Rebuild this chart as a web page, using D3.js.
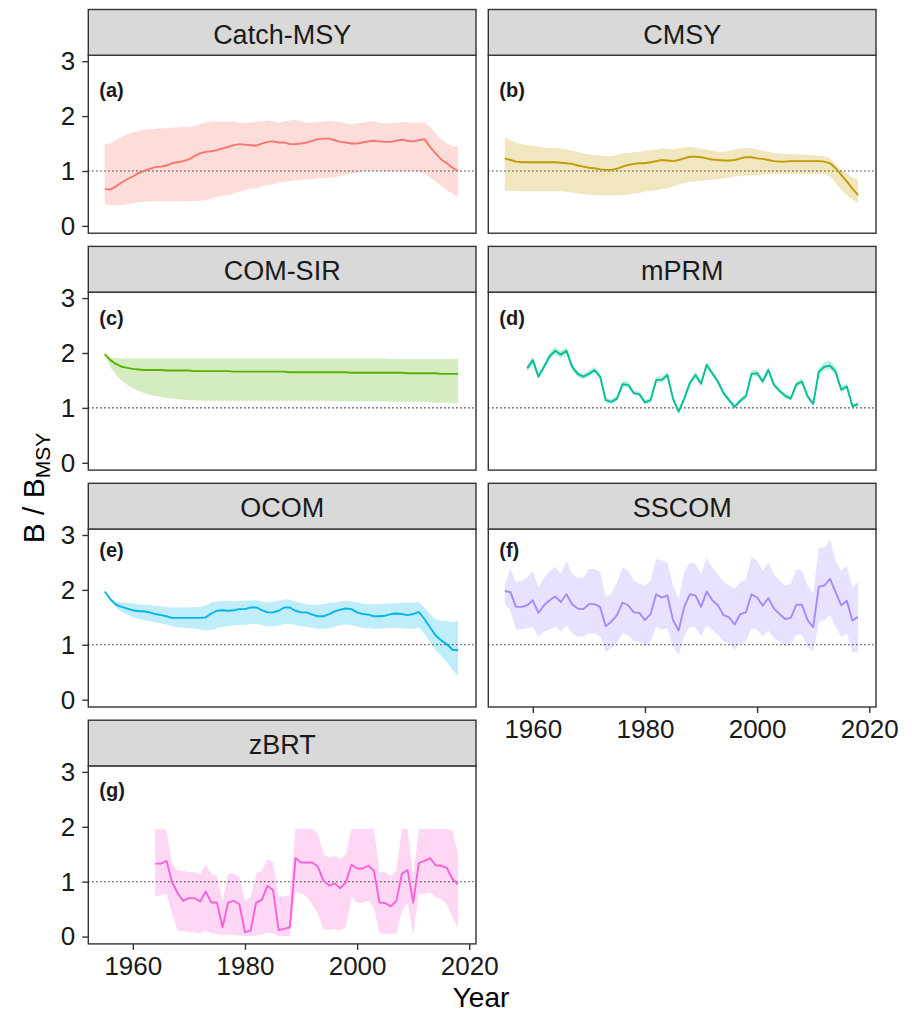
<!DOCTYPE html>
<html>
<head>
<meta charset="utf-8">
<script src="https://cdn.jsdelivr.net/npm/d3@7"></script>
<style>
  body { margin: 0; background: #fff; }
  text { font-family: "Liberation Sans", Arial, sans-serif; }
</style>
</head>
<body>
<svg id="chart" width="912" height="1013"></svg>
<script>
// facets, in the order they are drawn
const models = ['Catch-MSY', 'CMSY', 'COM-SIR', 'mPRM', 'OCOM', 'SSCOM', 'zBRT']
const tags = ['(a)', '(b)', '(c)', '(d)', '(e)', '(f)', '(g)']
const colors = ['#F8766D', '#C49A00', '#53B400', '#00C094', '#00B6EB', '#A58AFF', '#FB61D7']
const firstYears = [1955, 1955, 1955, 1959, 1955, 1955, 1964]
const tagY = [2.47, 2.47, 2.63, 2.63, 2.72, 2.72, 2.67]

const yTicks = [0, 1, 2, 3]
const xTicks = [1960, 1980, 2000, 2020]

// B/Bmsy estimates: median (mid) with lower/upper bounds, one value per year
const catchMsyMid = [0.67, 0.66, 0.72, 0.79, 0.85, 0.90, 0.96, 1.00, 1.04, 1.07,
  1.08, 1.10, 1.14, 1.16, 1.18, 1.21, 1.27, 1.32, 1.35, 1.36,
  1.38, 1.41, 1.44, 1.47, 1.49, 1.48, 1.47, 1.46, 1.50, 1.53,
  1.54, 1.52, 1.52, 1.49, 1.49, 1.50, 1.52, 1.55, 1.58, 1.59,
  1.59, 1.56, 1.53, 1.52, 1.50, 1.50, 1.52, 1.54, 1.55, 1.54,
  1.53, 1.53, 1.55, 1.57, 1.55, 1.54, 1.56, 1.58, 1.44, 1.32,
  1.21, 1.14, 1.06, 1.00]
const catchMsyHi = [1.49, 1.50, 1.56, 1.62, 1.67, 1.70, 1.73, 1.75, 1.76, 1.77,
  1.78, 1.78, 1.79, 1.79, 1.80, 1.80, 1.82, 1.85, 1.88, 1.90,
  1.90, 1.90, 1.90, 1.90, 1.88, 1.88, 1.88, 1.90, 1.90, 1.92,
  1.90, 1.88, 1.90, 1.92, 1.93, 1.91, 1.88, 1.88, 1.89, 1.90,
  1.91, 1.90, 1.89, 1.87, 1.85, 1.87, 1.88, 1.90, 1.90, 1.88,
  1.87, 1.87, 1.88, 1.89, 1.89, 1.88, 1.88, 1.89, 1.80, 1.68,
  1.58, 1.50, 1.45, 1.44]
const catchMsyLo = [0.40, 0.38, 0.37, 0.38, 0.40, 0.41, 0.43, 0.44, 0.45, 0.45,
  0.45, 0.45, 0.45, 0.45, 0.45, 0.45, 0.46, 0.45, 0.47, 0.50,
  0.53, 0.55, 0.56, 0.59, 0.62, 0.65, 0.68, 0.68, 0.72, 0.74,
  0.76, 0.79, 0.81, 0.82, 0.83, 0.84, 0.85, 0.85, 0.87, 0.87,
  0.88, 0.88, 0.91, 0.93, 0.95, 0.97, 0.99, 1.00, 1.00, 1.00,
  0.99, 1.00, 1.00, 0.99, 1.00, 1.00, 0.99, 0.96, 0.88, 0.81,
  0.73, 0.65, 0.59, 0.53]

const cmsyMid = [1.23, 1.20, 1.17, 1.16, 1.16, 1.16, 1.16, 1.16, 1.16, 1.16,
  1.15, 1.14, 1.13, 1.10, 1.08, 1.06, 1.05, 1.03, 1.02, 1.02,
  1.04, 1.08, 1.11, 1.13, 1.14, 1.14, 1.16, 1.18, 1.20, 1.19,
  1.18, 1.20, 1.23, 1.26, 1.26, 1.25, 1.23, 1.21, 1.20, 1.19,
  1.19, 1.20, 1.23, 1.25, 1.25, 1.23, 1.22, 1.20, 1.18, 1.17,
  1.17, 1.18, 1.18, 1.18, 1.18, 1.18, 1.18, 1.17, 1.14, 1.05,
  0.93, 0.81, 0.68, 0.56]
const cmsyHi = [1.61, 1.56, 1.52, 1.49, 1.47, 1.46, 1.44, 1.43, 1.42, 1.42,
  1.41, 1.39, 1.37, 1.35, 1.32, 1.30, 1.29, 1.28, 1.27, 1.27,
  1.29, 1.32, 1.33, 1.34, 1.35, 1.37, 1.38, 1.39, 1.41, 1.40,
  1.39, 1.41, 1.43, 1.44, 1.43, 1.41, 1.39, 1.37, 1.35, 1.35,
  1.37, 1.39, 1.41, 1.42, 1.41, 1.39, 1.37, 1.35, 1.33, 1.32,
  1.31, 1.31, 1.30, 1.30, 1.29, 1.29, 1.28, 1.27, 1.23, 1.11,
  1.02, 0.96, 0.88, 0.84]
const cmsyLo = [0.64, 0.64, 0.63, 0.63, 0.63, 0.63, 0.63, 0.63, 0.63, 0.63,
  0.63, 0.62, 0.61, 0.59, 0.58, 0.57, 0.56, 0.56, 0.56, 0.56,
  0.56, 0.56, 0.57, 0.59, 0.60, 0.62, 0.64, 0.65, 0.67, 0.68,
  0.72, 0.75, 0.78, 0.80, 0.81, 0.82, 0.83, 0.84, 0.85, 0.87,
  0.88, 0.90, 0.91, 0.92, 0.92, 0.92, 0.93, 0.94, 0.94, 0.94,
  0.94, 0.94, 0.94, 0.94, 0.94, 0.94, 0.94, 0.94, 0.90, 0.78,
  0.65, 0.56, 0.48, 0.42]

const comSirMid = [1.98, 1.87, 1.80, 1.75, 1.73, 1.71, 1.70, 1.69, 1.69, 1.69,
  1.69, 1.68, 1.68, 1.68, 1.68, 1.68, 1.67, 1.67, 1.67, 1.67,
  1.67, 1.67, 1.67, 1.66, 1.66, 1.66, 1.66, 1.66, 1.66, 1.66,
  1.66, 1.66, 1.66, 1.65, 1.65, 1.65, 1.65, 1.65, 1.65, 1.65,
  1.65, 1.65, 1.65, 1.65, 1.64, 1.64, 1.64, 1.64, 1.64, 1.64,
  1.64, 1.64, 1.64, 1.64, 1.63, 1.63, 1.63, 1.63, 1.63, 1.63,
  1.62, 1.62, 1.62, 1.62]
const comSirHi = [1.95, 1.92, 1.91, 1.90, 1.90, 1.90, 1.90, 1.90, 1.90, 1.90,
  1.90, 1.90, 1.90, 1.90, 1.90, 1.90, 1.90, 1.90, 1.90, 1.90,
  1.90, 1.90, 1.90, 1.90, 1.90, 1.90, 1.90, 1.90, 1.90, 1.90,
  1.90, 1.90, 1.90, 1.90, 1.90, 1.90, 1.90, 1.90, 1.90, 1.90,
  1.90, 1.90, 1.90, 1.90, 1.90, 1.90, 1.90, 1.90, 1.90, 1.90,
  1.90, 1.89, 1.89, 1.89, 1.89, 1.89, 1.89, 1.89, 1.89, 1.89,
  1.89, 1.89, 1.89, 1.89]
const comSirLo = [1.96, 1.74, 1.60, 1.50, 1.42, 1.36, 1.31, 1.27, 1.24, 1.22,
  1.20, 1.18, 1.17, 1.16, 1.15, 1.14, 1.14, 1.13, 1.13, 1.13,
  1.13, 1.13, 1.13, 1.13, 1.13, 1.13, 1.13, 1.13, 1.13, 1.13,
  1.13, 1.13, 1.13, 1.13, 1.13, 1.13, 1.13, 1.13, 1.13, 1.13,
  1.13, 1.12, 1.12, 1.12, 1.12, 1.12, 1.12, 1.12, 1.12, 1.12,
  1.12, 1.11, 1.11, 1.11, 1.11, 1.11, 1.11, 1.11, 1.10, 1.10,
  1.10, 1.10, 1.09, 1.09]

const mprmMid = [1.72, 1.87, 1.57, 1.75, 1.94, 2.04, 1.97, 2.04, 1.75, 1.62,
  1.57, 1.62, 1.69, 1.57, 1.14, 1.11, 1.17, 1.43, 1.42, 1.27,
  1.25, 1.10, 1.14, 1.51, 1.51, 1.60, 1.17, 0.93, 1.17, 1.45,
  1.60, 1.44, 1.78, 1.63, 1.48, 1.27, 1.14, 1.02, 1.13, 1.21,
  1.62, 1.63, 1.48, 1.69, 1.42, 1.31, 1.22, 1.17, 1.43, 1.48,
  1.21, 1.07, 1.66, 1.75, 1.77, 1.66, 1.33, 1.39, 1.03, 1.07]
const mprmHi = [1.79, 1.93, 1.63, 1.81, 2.01, 2.12, 2.04, 2.11, 1.81, 1.68,
  1.62, 1.68, 1.75, 1.63, 1.19, 1.16, 1.22, 1.49, 1.48, 1.32,
  1.30, 1.15, 1.19, 1.57, 1.57, 1.66, 1.22, 0.98, 1.22, 1.51,
  1.66, 1.50, 1.84, 1.69, 1.53, 1.32, 1.19, 1.07, 1.18, 1.27,
  1.68, 1.70, 1.53, 1.75, 1.47, 1.36, 1.27, 1.22, 1.49, 1.54,
  1.26, 1.12, 1.73, 1.83, 1.86, 1.74, 1.39, 1.45, 1.08, 1.11]
const mprmLo = [1.66, 1.81, 1.52, 1.69, 1.88, 1.97, 1.91, 1.97, 1.69, 1.56,
  1.52, 1.57, 1.64, 1.52, 1.09, 1.07, 1.12, 1.38, 1.37, 1.22,
  1.21, 1.06, 1.09, 1.46, 1.46, 1.55, 1.12, 0.89, 1.12, 1.40,
  1.55, 1.39, 1.73, 1.58, 1.43, 1.23, 1.10, 0.98, 1.09, 1.16,
  1.57, 1.58, 1.43, 1.64, 1.37, 1.27, 1.18, 1.13, 1.38, 1.43,
  1.17, 1.03, 1.60, 1.68, 1.70, 1.59, 1.28, 1.34, 0.99, 1.03]

const ocomMid = [1.97, 1.83, 1.73, 1.69, 1.66, 1.63, 1.61, 1.61, 1.59, 1.56,
  1.54, 1.52, 1.49, 1.49, 1.49, 1.49, 1.49, 1.49, 1.50, 1.57,
  1.62, 1.63, 1.62, 1.63, 1.65, 1.65, 1.68, 1.68, 1.63, 1.59,
  1.59, 1.62, 1.68, 1.68, 1.62, 1.59, 1.59, 1.55, 1.52, 1.52,
  1.56, 1.61, 1.64, 1.66, 1.65, 1.59, 1.56, 1.55, 1.52, 1.52,
  1.53, 1.56, 1.57, 1.56, 1.54, 1.56, 1.60, 1.47, 1.32, 1.17,
  1.08, 1.01, 0.91, 0.90]
const ocomHi = [1.97, 1.84, 1.78, 1.77, 1.76, 1.75, 1.74, 1.73, 1.72, 1.71,
  1.70, 1.69, 1.68, 1.68, 1.68, 1.68, 1.69, 1.69, 1.72, 1.77,
  1.79, 1.80, 1.80, 1.79, 1.80, 1.80, 1.81, 1.81, 1.79, 1.77,
  1.78, 1.80, 1.83, 1.82, 1.79, 1.76, 1.74, 1.72, 1.73, 1.74,
  1.76, 1.77, 1.79, 1.80, 1.79, 1.77, 1.75, 1.74, 1.74, 1.74,
  1.75, 1.75, 1.76, 1.77, 1.77, 1.77, 1.78, 1.68, 1.56, 1.46,
  1.44, 1.43, 1.41, 1.44]
const ocomLo = [1.97, 1.82, 1.68, 1.60, 1.55, 1.50, 1.47, 1.45, 1.43, 1.41,
  1.39, 1.37, 1.34, 1.32, 1.31, 1.30, 1.29, 1.28, 1.26, 1.27,
  1.30, 1.33, 1.34, 1.35, 1.36, 1.36, 1.38, 1.38, 1.36, 1.34,
  1.34, 1.35, 1.38, 1.38, 1.36, 1.34, 1.33, 1.31, 1.29, 1.29,
  1.30, 1.33, 1.36, 1.37, 1.36, 1.33, 1.31, 1.30, 1.29, 1.29,
  1.30, 1.31, 1.31, 1.30, 1.29, 1.29, 1.31, 1.20, 1.05, 0.90,
  0.80, 0.68, 0.55, 0.43]

const sscomMid = [1.98, 1.96, 1.69, 1.69, 1.72, 1.81, 1.58, 1.72, 1.81, 1.88,
  1.78, 1.92, 1.74, 1.66, 1.65, 1.74, 1.74, 1.69, 1.34, 1.42,
  1.54, 1.77, 1.72, 1.59, 1.58, 1.45, 1.56, 1.92, 1.86, 1.90,
  1.45, 1.26, 1.69, 1.92, 1.90, 1.69, 1.97, 1.81, 1.72, 1.54,
  1.50, 1.37, 1.56, 1.59, 1.92, 1.86, 1.71, 1.85, 1.66, 1.56,
  1.47, 1.49, 1.73, 1.73, 1.45, 1.32, 2.06, 2.08, 2.20, 1.96,
  1.72, 1.80, 1.44, 1.51]
const sscomHi = [2.10, 2.38, 2.14, 2.17, 2.23, 2.35, 2.05, 2.22, 2.35, 2.42,
  2.29, 2.54, 2.29, 2.22, 2.22, 2.38, 2.38, 2.32, 1.87, 1.93,
  2.14, 2.41, 2.35, 2.17, 2.11, 2.08, 2.17, 2.56, 2.54, 2.50,
  2.08, 1.84, 2.32, 2.50, 2.47, 2.29, 2.59, 2.41, 2.29, 2.14,
  2.08, 2.02, 2.14, 2.20, 2.60, 2.53, 2.35, 2.50, 2.29, 2.17,
  2.08, 2.11, 2.38, 2.35, 2.08, 1.93, 2.77, 2.77, 2.92, 2.53,
  2.35, 2.44, 2.05, 2.14]
const sscomLo = [1.75, 1.62, 1.28, 1.28, 1.30, 1.32, 1.15, 1.24, 1.28, 1.33,
  1.24, 1.36, 1.21, 1.15, 1.15, 1.21, 1.21, 1.15, 0.86, 0.94,
  1.03, 1.21, 1.18, 1.06, 1.06, 0.97, 1.06, 1.33, 1.28, 1.30,
  0.97, 0.82, 1.15, 1.33, 1.32, 1.15, 1.36, 1.27, 1.18, 1.06,
  1.02, 0.91, 1.03, 1.06, 1.30, 1.27, 1.15, 1.26, 1.12, 1.06,
  0.98, 1.00, 1.18, 1.18, 0.97, 0.88, 1.42, 1.45, 1.54, 1.33,
  1.15, 1.21, 0.86, 0.88]

const zbrtMid = [1.33, 1.33, 1.38, 0.99, 0.79, 0.65, 0.70, 0.70, 0.64, 0.82,
  0.62, 0.62, 0.17, 0.62, 0.65, 0.59, 0.08, 0.11, 0.62, 0.67,
  0.92, 0.85, 0.12, 0.14, 0.17, 1.43, 1.35, 1.35, 1.35, 1.27,
  1.02, 0.93, 0.97, 0.88, 0.99, 1.31, 1.24, 1.24, 1.29, 1.20,
  0.62, 0.61, 0.55, 0.65, 1.15, 1.21, 0.62, 1.34, 1.38, 1.43,
  1.30, 1.29, 1.25, 1.05, 0.95]
const zbrtHi = [1.96, 1.96, 1.94, 1.32, 1.20, 1.20, 1.17, 1.17, 1.14, 1.31,
  1.14, 1.11, 0.65, 1.14, 1.15, 1.08, 0.65, 0.72, 1.14, 1.20,
  1.41, 1.35, 0.72, 0.73, 0.75, 1.96, 1.96, 1.96, 1.96, 1.88,
  1.50, 1.44, 1.47, 1.41, 1.50, 1.96, 1.96, 1.96, 1.96, 1.96,
  1.17, 1.17, 1.11, 1.20, 1.96, 1.96, 1.08, 1.96, 1.96, 1.96,
  1.96, 1.96, 1.96, 1.93, 1.50]
const zbrtLo = [0.73, 0.75, 0.78, 0.41, 0.11, 0.10, 0.08, 0.08, 0.06, 0.11,
  0.06, 0.05, 0.02, 0.04, 0.03, 0.02, 0.01, 0.01, 0.02, 0.04,
  0.08, 0.06, 0.01, 0.01, 0.01, 0.81, 0.79, 0.72, 0.59, 0.41,
  0.14, 0.12, 0.14, 0.12, 0.17, 0.72, 0.62, 0.61, 0.65, 0.53,
  0.06, 0.05, 0.05, 0.06, 0.47, 0.62, 0.04, 0.78, 0.78, 0.81,
  0.72, 0.68, 0.59, 0.35, 0.17]

const mids = [catchMsyMid, cmsyMid, comSirMid, mprmMid, ocomMid, sscomMid, zbrtMid]
const his = [catchMsyHi, cmsyHi, comSirHi, mprmHi, ocomHi, sscomHi, zbrtHi]
const los = [catchMsyLo, cmsyLo, comSirLo, mprmLo, ocomLo, sscomLo, zbrtLo]

// layout
const colLeft = [88.3, 488.3]
const panelW = 387.7
const stripH = 45.7
const panelH = 178
const rowPitch = 236.9
const top0 = 9.5
const xDomain = [1952.06, 2021.2]
const yDomain = [-0.133, 3.109]
const fontSize = 26

const svg = d3.select('#chart')

const panels = models.map((name, i) => {
  const col = i % 2
  const row = Math.floor(i / 2)
  const left = colLeft[col]
  const stripTop = top0 + row * rowPitch
  const plotTop = stripTop + stripH
  const rows = mids[i].map((v, j) => ({ year: firstYears[i] + j, mid: v, lo: los[i][j], hi: his[i][j] }))
  return { name, i, col, row, left, stripTop, plotTop, rows }
})

panels.forEach(p => {
  const x = d3.scaleLinear().domain(xDomain).range([p.left, p.left + panelW])
  const y = d3.scaleLinear().domain(yDomain).range([p.plotTop + panelH, p.plotTop])
  const g = svg.append('g').attr('class', 'panel')

  // ribbon
  const area = d3.area().x(d => x(d.year)).y0(d => y(d.lo)).y1(d => y(d.hi))
  g.append('path')
    .datum(p.rows)
    .attr('d', area)
    .attr('fill', colors[p.i])
    .attr('fill-opacity', 0.25)

  // reference line at B/Bmsy = 1
  g.append('line')
    .attr('x1', p.left).attr('x2', p.left + panelW)
    .attr('y1', y(1)).attr('y2', y(1))
    .attr('stroke', '#000')
    .attr('stroke-width', 1.1)
    .attr('stroke-dasharray', '1.2,2.8')

  const line = d3.line().x(d => x(d.year)).y(d => y(d.mid))
  g.append('path')
    .datum(p.rows)
    .attr('d', line)
    .attr('fill', 'none')
    .attr('stroke', colors[p.i])
    .attr('stroke-width', 1.9)
    .attr('stroke-linejoin', 'round')

  // panel tag
  g.append('text')
    .attr('x', p.left + 11)
    .attr('y', y(tagY[p.i]))
    .attr('dy', '0.35em')
    .attr('font-size', 20)
    .attr('font-weight', 'bold')
    .attr('fill', '#1a1a1a')
    .text(tags[p.i])

  // border
  g.append('rect')
    .attr('x', p.left).attr('y', p.plotTop)
    .attr('width', panelW).attr('height', panelH)
    .attr('fill', 'none')
    .attr('stroke', '#333')
    .attr('stroke-width', 1.4)

  // strip
  g.append('rect')
    .attr('x', p.left).attr('y', p.stripTop)
    .attr('width', panelW).attr('height', stripH)
    .attr('fill', '#d9d9d9')
    .attr('stroke', '#333')
    .attr('stroke-width', 1.4)
  g.append('text')
    .attr('x', p.left + panelW / 2)
    .attr('y', p.stripTop + 34)
    .attr('text-anchor', 'middle')
    .attr('font-size', 27)
    .attr('fill', '#1a1a1a')
    .text(p.name)

  // y axis on the left column
  if (p.col === 0) {
    const ax = g.append('g')
      .attr('transform', `translate(${p.left},0)`)
      .call(d3.axisLeft(y).tickValues(yTicks).tickFormat(d3.format('d')).tickSize(6).tickPadding(7))
    ax.select('.domain').remove()
    ax.selectAll('line').attr('stroke', '#333').attr('stroke-width', 1.4)
    ax.selectAll('text')
      .attr('font-size', fontSize)
      .attr('font-family', null)
      .attr('fill', '#1a1a1a')
  }
  // x axis under the last panel of each column
  if (p.i === 5 || p.i === 6) {
    const ax = g.append('g')
      .attr('transform', `translate(0,${p.plotTop + panelH})`)
      .call(d3.axisBottom(x).tickValues(xTicks).tickFormat(d3.format('d')).tickSize(6).tickPadding(7))
    ax.select('.domain').remove()
    ax.selectAll('line').attr('stroke', '#333').attr('stroke-width', 1.4)
    ax.selectAll('text')
      .attr('font-size', fontSize)
      .attr('font-family', null)
      .attr('fill', '#1a1a1a')
  }
})

// axis titles
svg.append('text')
  .attr('x', 481)
  .attr('y', 1007)
  .attr('text-anchor', 'middle')
  .attr('font-size', 28)
  .text('Year')

const yTitle = svg.append('text')
  .attr('transform', 'translate(43.5,488) rotate(-90)')
  .attr('text-anchor', 'middle')
  .attr('font-size', 30)
yTitle.append('tspan').text('B / B')
yTitle.append('tspan')
  .attr('font-size', 21)
  .attr('dy', 6)
  .text('MSY')
</script>
</body>
</html>
